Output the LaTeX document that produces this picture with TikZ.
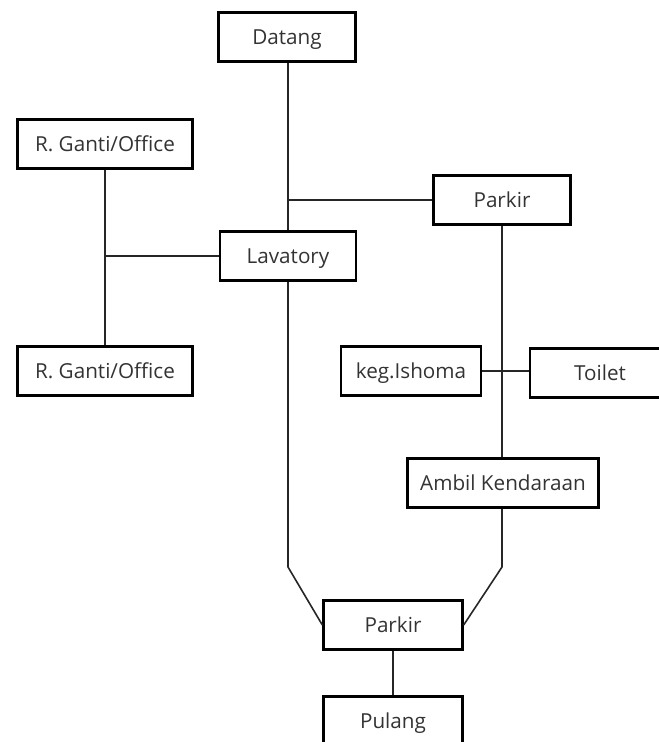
\documentclass[tikz,border=0pt]{standalone}
\usepackage{fontspec}
\setmainfont{Open Sans}
\usepackage{tikz}
\tikzset{
    box/.style={draw, line width=2pt, minimum height=37pt, inner sep=0pt, text height=11pt, text depth=0pt, font=\fontsize{15.5}{18}\selectfont, text=black!80},
    link/.style={line width=1.2pt, color=black!85},
}

\begin{document}
\begin{tikzpicture}[x=0.75pt, y=-0.75pt]
\useasboundingbox (0,0) rectangle (658,742);
\node[box, minimum width=103pt] (datang) at (287,37) {Datang};
\node[box, minimum width=131pt] (gantiA) at (105,144) {R. Ganti/Office};
\node[box, minimum width=103pt] (parkirA) at (502,200) {Parkir};
\node[box, minimum width=102pt] (lavatory) at (288,256) {Lavatory};
\node[box, minimum width=131pt] (gantiB) at (105,371) {R. Ganti/Office};
\node[box, minimum width=105pt] (ishoma) at (411,371) {keg.Ishoma};
\node[box, minimum width=105pt] (toilet) at (600,373) {Toilet};
\node[box, minimum width=143pt] (ambil) at (503,483) {Ambil Kendaraan};
\node[box, minimum width=104pt] (parkirB) at (393,625) {Parkir};
\node[box, minimum width=104pt] (pulang) at (393,721) {Pulang};

\coordinate (bendL) at (288,567);
\coordinate (bendR) at (502,567);

\draw[link] (lavatory.north -| 288,0) -- (datang.south -| 288,0);
\draw[link] (parkirA.west) -- (parkirA.west -| 288,0);
\draw[link] (gantiA.south) -- (gantiB.north);
\draw[link] (lavatory.west) -- (lavatory.west -| gantiA.south);
\draw[link] (parkirA.south) -- (ambil.north -| parkirA.south);
\draw[link] (ishoma.east) -- (ishoma.east -| toilet.west);
\draw[link] (lavatory.south) -- (bendL) -- (parkirB.west);
\draw[link] (ambil.south -| bendR) -- (bendR) -- (parkirB.east);
\draw[link] (parkirB.south) -- (pulang.north);
\end{tikzpicture}
\end{document}
